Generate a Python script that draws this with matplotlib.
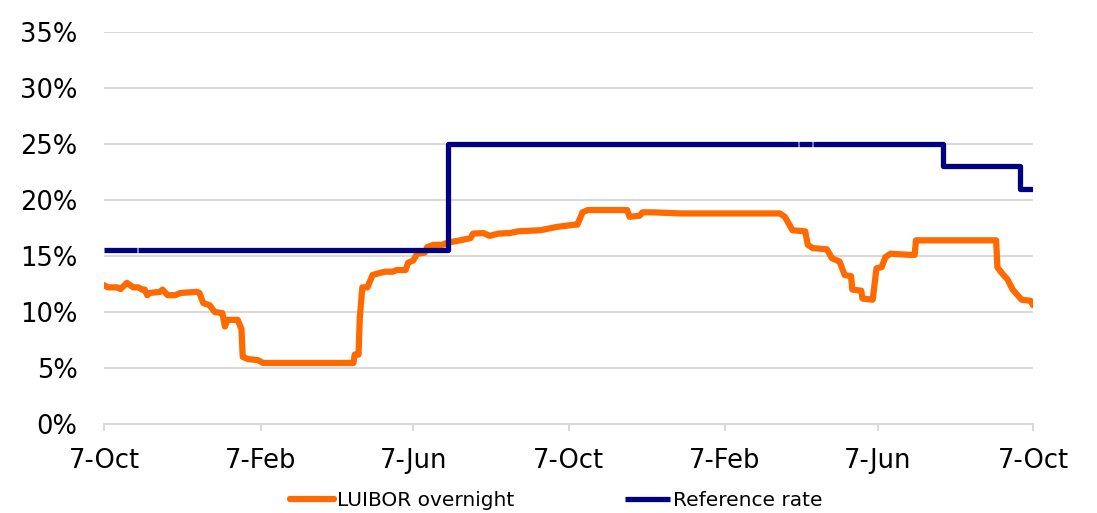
import matplotlib
matplotlib.use("Agg")
import matplotlib.dates as mdates
import matplotlib.pyplot as plt
import numpy as np
import pandas as pd

# Two years of daily data, starting 7 October
start_date = "2021-10-07"

# LUIBOR overnight rate, % (day offset from start, value)
luibor_days = [0, 3, 10, 13, 18, 23, 27, 30, 32, 34, 36, 44, 46, 50, 56, 60, 73, 75, 78,
               83, 87, 93, 95, 97, 105, 108, 109, 113, 121, 125, 196, 197, 200, 201, 203,
               207, 211, 217, 221, 227, 230, 237, 239, 243, 246, 252, 254, 259, 266, 270,
               280, 288, 290, 298, 303, 310, 319, 325, 343, 356, 370, 372, 376, 380, 411,
               413, 421, 423, 431, 453, 531, 535, 541, 551, 553, 557, 568, 572, 578, 582,
               587, 588, 595, 596, 604, 607, 611, 614, 618, 634, 637, 638, 701, 702, 706,
               710, 714, 721, 728, 730]
luibor_vals = [12.4, 12.2, 12.2, 12.05, 12.6, 12.2, 12.2, 12.0, 12.0, 11.5, 11.7, 11.8, 12.0,
               11.5, 11.5, 11.7, 11.8, 11.7, 10.8, 10.6, 10.0, 9.9, 8.7, 9.3, 9.3, 8.5, 6.0,
               5.8, 5.7, 5.45, 5.45, 6.2, 6.2, 9.5, 12.2, 12.2, 13.3, 13.5, 13.6, 13.6,
               13.75, 13.75, 14.4, 14.6, 15.2, 15.3, 15.8, 16.0, 16.0, 16.2, 16.4, 16.6,
               17.0, 17.05, 16.8, 17.0, 17.05, 17.2, 17.3, 17.6, 17.8, 17.8, 18.9, 19.1,
               19.1, 18.5, 18.6, 18.9, 18.9, 18.8, 18.8, 18.5, 17.3, 17.2, 16.0, 15.7, 15.6,
               14.8, 14.5, 13.3, 13.2, 12.0, 11.9, 11.2, 11.1, 13.9, 14.0, 14.9, 15.2, 15.1,
               15.1, 16.4, 16.4, 14.0, 13.4, 12.9, 12.0, 11.1, 11.0, 10.6]

# Reference rate, % (step changes; NaN marks days without a quote)
ref_days = [0, 25, 26, 27, 270, 544, 545, 546, 555, 556, 557, 659, 720, 730]
ref_vals = [15.5, 15.5, np.nan, 15.5, 25.0, 25.0, np.nan, 25.0, 25.0, np.nan, 25.0,
            23.0, 21.0, 21.0]

y_ticks = [0, 5, 10, 15, 20, 25, 30, 35]

base = pd.Timestamp(start_date)
luibor_dates = base + pd.to_timedelta(luibor_days, unit="D")
ref_dates = base + pd.to_timedelta(ref_days, unit="D")

fig = plt.figure(figsize=(10.97, 5.13), dpi=100)
ax = fig.add_axes([0.0948, 0.1735, 0.8469, 0.7641])

ax.plot(luibor_dates, luibor_vals, color="#FF6A00", lw=4.5,
        solid_joinstyle="round", solid_capstyle="round", label="LUIBOR overnight")
ax.plot(ref_dates, ref_vals, color="#000080", lw=3.8, drawstyle="steps-post",
        solid_capstyle="butt", label="Reference rate")

# Axes limits and ticks
ax.set_xlim(base, base + pd.Timedelta(days=730))
ax.set_ylim(0, 35)
ax.set_yticks(y_ticks)
ax.set_yticklabels([f"{v}%" for v in y_ticks])

# tick every four months, on the 7th
xticks = [base + pd.DateOffset(months=4 * i) for i in range(7)]
ax.set_xticks(xticks)
ax.xaxis.set_major_formatter(mdates.DateFormatter("%-d-%b"))

ax.grid(axis="y", color="#d9d9d9", lw=1.5)
ax.set_axisbelow(True)
for side in ["top", "right", "left"]:
    ax.spines[side].set_visible(False)
ax.spines["bottom"].set_color("#d9d9d9")
ax.spines["bottom"].set_linewidth(1.5)

ax.tick_params(axis="y", length=0, pad=19, labelsize=18.5, labelcolor="#000000")
ax.tick_params(axis="x", length=5, width=1.5, color="#d9d9d9", pad=12,
               labelsize=18.5, labelcolor="#000000")

fig.legend(loc="center", bbox_to_anchor=(0.507, 0.024), ncol=2, frameon=False,
           fontsize=14.5, handlelength=2.2, handletextpad=0.15, columnspacing=5.5)

fig.savefig("out.png", dpi=100)
